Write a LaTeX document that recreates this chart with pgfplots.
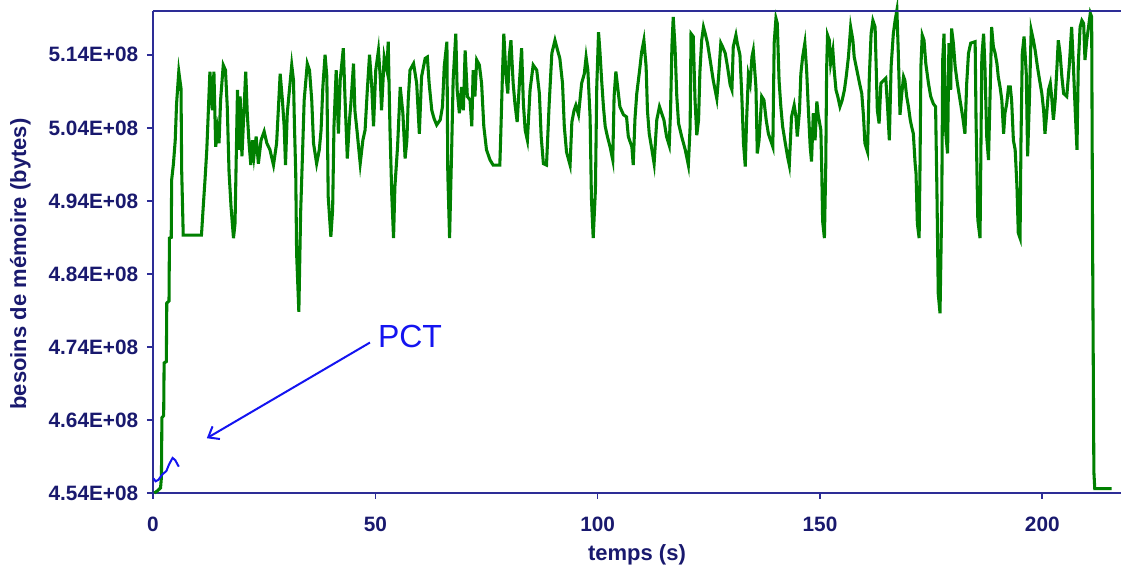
\documentclass[border=0pt]{standalone}
\usepackage{fontspec}
\setmainfont{Liberation Sans}
\usepackage{pgfplots}
\pgfplotsset{compat=1.18}
\usetikzlibrary{arrows.meta}

\definecolor{axisblue}{RGB}{45,45,150}
\definecolor{labelblue}{RGB}{25,25,110}
\definecolor{memgreen}{RGB}{0,128,0}
\definecolor{pctblue}{RGB}{20,20,240}

\begin{document}
\begin{tikzpicture}
% page = 1122x566 px at 0.75pt per px
\path[use as bounding box] (-114.75pt,-54.75pt) rectangle (726.75pt,369.75pt);
\begin{axis}[
    scale only axis,
    width=726pt, height=361.5pt,
    at={(0pt,0pt)}, anchor=south west,
    xmin=0, xmax=217.7,
    ymin=454, ymax=520,
    axis x line*=bottom,
    axis y line*=left,
    axis line style={axisblue, line width=1.4pt},
    tick align=outside,
    major tick length=4.5pt,
    every tick/.style={axisblue, line width=1.2pt},
    xtick={0,50,100,150,200},
    xticklabels={0,50,100,150,200},
    ytick={454,464,474,484,494,504,514},
    yticklabels={4.54E+08,4.64E+08,4.74E+08,4.84E+08,4.94E+08,5.04E+08,5.14E+08},
    ticklabel style={font=\fontsize{15.6}{18}\selectfont\bfseries, text=labelblue},
    xticklabel style={yshift=-10pt},
    yticklabel style={xshift=-3pt},
    xlabel={temps (s)},
    ylabel={besoins de mémoire (bytes)},
    label style={font=\fontsize{16.5}{20}\selectfont\bfseries, text=labelblue},
    xlabel style={at={(axis description cs:0.5,-0.128)}, anchor=center},
    ylabel style={at={(axis description cs:-0.137,0.475)}, anchor=center},
    clip=false,
]
% besoins de mémoire, en millions d'octets
\addplot[memgreen, line width=2.3pt, line join=miter] coordinates {
(0.3,454.0) (1.0,454.3) (1.7,454.7) (1.9,456.2) (2.0,464.3) (2.4,464.6)
(2.5,471.8) (3.0,472.0) (3.1,480.0) (3.6,480.3) (3.7,488.9) (4.1,489.0)
(4.2,496.9) (4.6,499.1) (5.0,502.3) (5.3,507.3) (5.8,511.7) (6.3,509.4)
(6.45,498.2) (6.8,489.3) (10.9,489.3) (11.3,493.2) (11.7,496.9) (12.1,501.0)
(12.8,511.7) (13.35,506.4) (13.7,511.7) (14.1,501.4) (14.5,503.7) (14.85,501.9)
(15.2,507.8) (15.8,512.6) (16.3,511.9) (16.7,506.9) (17.1,498.0) (17.55,493.2)
(18.1,488.9) (18.45,490.9) (19.0,509.2) (19.3,501.0) (19.6,508.3) (20.0,500.1)
(20.85,511.7) (21.2,506.0) (21.6,501.9) (22.0,498.9) (22.35,502.3) (22.7,500.1)
(23.2,502.8) (23.7,499.1) (24.3,502.3) (25.0,503.5) (25.6,501.9) (26.3,501.0)
(27.1,498.9) (27.8,501.9) (28.6,511.4) (29.1,507.8) (29.5,504.2) (29.8,498.9)
(30.2,506.0) (31.2,512.6) (31.6,510.5) (31.8,504.6) (32.1,497.8) (32.3,486.8)
(32.8,478.8) (33.2,492.3) (33.7,501.9) (34.0,507.8) (34.7,512.8) (35.2,511.9)
(35.7,507.8) (36.1,501.9) (36.8,499.1) (37.4,501.0) (37.8,503.7) (38.2,509.6)
(38.7,514.0) (39.1,511.0) (39.4,494.6) (40.0,489.1) (40.4,492.8) (40.7,504.2)
(41.2,511.9) (41.7,503.2) (42.1,510.5) (42.8,514.9) (43.2,507.8) (43.7,499.8)
(44.2,505.1) (44.5,507.3) (45.1,512.8) (45.4,506.4) (45.9,503.5) (46.6,499.1)
(47.2,502.3) (47.7,503.7) (48.2,509.2) (48.7,514.0) (49.2,509.6) (49.6,504.2)
(50.1,511.9) (50.7,514.6) (51.1,511.0) (51.4,506.4) (52.0,513.7) (52.6,511.9)
(52.9,515.8) (53.3,503.7) (53.7,494.8) (54.1,488.9) (54.4,495.9) (55.0,501.4)
(55.6,509.6) (56.2,506.0) (56.7,499.8) (57.1,502.3) (57.4,507.8) (57.8,511.9)
(58.6,512.8) (59.3,510.1) (59.9,503.2) (60.4,511.0) (61.2,513.5) (61.7,513.7)
(62.1,510.1) (62.7,506.4) (63.2,505.3) (63.8,504.4) (64.6,505.1) (65.1,506.9)
(65.5,512.4) (66.1,515.8) (66.3,497.8) (66.7,488.9) (67.2,501.9) (67.5,510.5)
(68.1,516.9) (68.4,509.2) (68.9,506.0) (69.4,509.6) (69.8,506.4) (70.2,514.6)
(70.7,508.3) (71.3,507.8) (71.7,504.2) (72.0,511.9) (72.4,508.3) (72.8,513.3)
(73.4,512.6) (73.9,510.1) (74.4,504.2) (75.0,501.0) (75.8,499.6) (76.5,498.9)
(78.0,498.9) (78.2,502.8) (78.6,511.4) (78.9,516.9) (79.4,511.0) (79.8,508.7)
(80.1,513.7) (80.5,516.0) (81.0,510.1) (81.4,507.3) (81.9,504.8) (82.4,510.1)
(82.9,514.9) (83.3,507.3) (83.7,503.7) (84.2,502.3) (84.8,509.2) (85.5,512.6)
(86.3,511.9) (86.9,508.7) (87.3,502.8) (87.8,499.1) (88.5,498.9) (89.1,507.3)
(89.7,514.2) (90.4,516.0) (91.0,514.6) (91.5,513.5) (92.1,510.1) (92.5,504.2)
(93.0,500.7) (93.8,498.9) (94.2,504.8) (94.7,506.4) (95.1,507.1) (95.7,505.8)
(96.4,510.1) (97.0,511.4) (97.4,513.7) (97.8,511.9) (98.3,505.5) (98.6,494.4)
(99.0,488.9) (99.5,495.5) (99.8,509.6) (100.2,517.1) (100.5,514.6) (100.9,510.5)
(101.3,506.9) (101.7,504.2) (102.2,502.8) (102.8,501.4) (103.4,499.6) (103.7,508.3)
(104.1,511.7) (104.5,509.6) (105.0,506.9) (105.8,505.8) (106.5,505.5) (106.9,502.8)
(107.7,501.4) (108.0,498.9) (108.4,505.3) (108.8,508.7) (109.4,511.7) (109.9,514.4)
(110.4,516.0) (110.9,512.4) (111.2,506.4) (111.6,503.2) (112.2,501.0) (112.7,499.1)
(113.3,505.1) (113.9,506.9) (114.4,506.0) (114.9,505.1) (115.5,502.8) (116.1,501.6)
(116.4,506.4) (116.7,515.1) (117.0,519.2) (117.4,515.1) (117.8,508.3) (118.2,504.6)
(118.9,502.8) (119.7,501.0) (120.4,498.9) (120.8,504.2) (121.0,516.9) (121.5,516.5)
(121.9,507.8) (122.3,503.0) (122.7,505.1) (123.0,511.7) (123.4,516.0) (123.8,517.8)
(124.2,516.9) (124.7,515.6) (125.3,513.3) (126.0,510.5) (126.8,508.0) (127.2,511.0)
(127.7,515.6) (128.1,515.1) (128.7,514.2) (129.2,512.4) (129.8,509.9) (130.2,509.2)
(130.5,515.1) (131.1,516.7) (131.4,515.6) (132.0,514.0) (132.4,508.7) (132.8,501.9)
(133.2,498.7) (133.5,505.1) (133.9,511.2) (134.3,510.1) (134.7,513.7) (135.0,514.6)
(135.6,509.6) (135.9,500.5) (136.3,502.3) (136.9,508.3) (137.4,507.8) (137.9,505.1)
(138.4,503.2) (138.9,502.3) (139.4,501.4) (139.7,515.6) (140.1,519.0) (140.4,518.3)
(140.8,510.5) (141.2,506.9) (141.6,504.2) (142.2,501.9) (142.7,500.1) (143.1,498.9)
(143.6,505.5) (144.2,507.1) (144.6,505.5) (144.9,502.8) (145.4,506.4) (145.7,511.4)
(146.1,513.7) (146.6,515.6) (147.0,511.9) (147.4,506.4) (147.8,501.4) (148.1,499.4)
(148.5,506.0) (148.9,502.3) (149.3,507.6) (149.6,505.8) (150.2,503.7) (150.4,498.2)
(150.6,491.2) (151.0,488.9) (151.3,498.7) (151.5,512.1) (151.7,516.7) (152.1,516.0)
(152.4,512.8) (152.9,514.6) (153.2,511.9) (153.6,509.2) (154.0,508.3) (154.5,506.9)
(155.0,507.8) (155.5,509.2) (155.9,511.0) (156.4,513.7) (156.9,517.8) (157.4,516.0)
(157.7,513.7) (158.3,511.9) (158.9,510.1) (159.4,508.7) (159.8,505.5) (160.1,501.9)
(160.7,500.7) (161.1,511.0) (161.5,516.9) (161.9,518.7) (162.4,517.8) (162.6,513.3)
(162.9,506.4) (163.3,504.6) (163.7,510.1) (164.3,510.5) (164.8,510.8) (165.2,506.9)
(165.6,502.3) (166.0,512.4) (166.5,516.9) (166.9,518.7) (167.3,520.1) (167.6,514.6)
(168.0,505.8) (168.4,508.7) (168.8,511.0) (169.1,510.5) (169.5,508.3) (169.9,506.9)
(170.3,505.1) (170.6,504.2) (171.0,503.2) (171.4,499.1) (171.6,497.8) (171.9,490.9)
(172.3,488.9) (172.5,498.7) (172.7,512.4) (173.0,516.7) (173.4,516.0) (173.8,512.8)
(174.4,510.1) (174.9,508.3) (175.5,507.3) (176.0,506.9) (176.3,495.5) (176.6,481.3)
(177.0,478.6) (177.4,494.1) (177.6,513.3) (177.9,516.9) (178.3,503.2) (178.7,500.5)
(179.0,515.6) (179.4,509.2) (179.6,517.6) (180.0,515.6) (180.4,512.4) (180.9,510.1)
(181.5,507.8) (182.1,505.5) (182.6,503.2) (183.0,510.1) (183.4,514.2) (183.9,515.6)
(184.9,515.8) (185.1,505.1) (185.5,491.4) (186.0,488.9) (186.4,513.7) (186.8,516.9)
(187.1,512.4) (187.5,502.8) (187.9,499.6) (188.3,509.6) (188.6,517.8) (189.0,515.1)
(189.4,514.2) (189.8,512.8) (190.1,511.0) (190.5,509.6) (190.9,507.8) (191.3,503.2)
(191.6,506.0) (192.0,507.3) (192.4,509.6) (192.8,509.6) (193.1,507.8) (193.5,502.3)
(193.9,501.0) (194.3,496.0) (194.6,489.6) (195.0,488.9) (195.2,501.9) (195.5,514.2)
(195.9,516.5) (196.4,511.4) (196.7,500.1) (197.1,507.8) (197.5,517.4) (198.0,516.0)
(198.4,514.6) (198.9,512.4) (199.4,510.5) (199.9,508.7) (200.3,506.4) (200.6,503.2)
(201.0,506.0) (201.4,509.2) (201.8,510.1) (202.1,508.3) (202.5,505.1) (202.9,507.8)
(203.3,512.4) (203.6,516.0) (204.0,514.2) (204.4,511.0) (204.8,508.7) (205.5,508.3)
(206.1,512.8) (206.6,517.8) (207.0,512.4) (207.4,506.4) (207.8,501.0) (208.1,512.8)
(208.5,517.8) (208.9,518.7) (209.3,518.3) (209.6,513.3) (210.0,516.0) (210.4,517.8)
(210.8,519.7) (211.1,519.2) (211.3,489.6) (211.6,456.9) (211.8,454.6) (215.6,454.6)
};
% PCT
\addplot[pctblue, line width=1.5pt] coordinates {
(0.1,456.0) (0.6,455.6) (1.2,455.8) (2.2,456.6) (3.0,457.0) (3.6,457.9)
(4.4,458.8) (5.0,458.5) (5.8,457.6)
};
\draw[axisblue, line width=1.4pt] (rel axis cs:0,1) -- (rel axis cs:1,1);
\draw[pctblue, line width=1.5pt, -{Straight Barb[length=7pt, width=11pt, line width=1.5pt]}]
  (axis cs:48.8,474.6) -- (axis cs:12.1,461.5);
\node[pctblue, font=\fontsize{24}{28}\selectfont, anchor=center] at (axis cs:57.8,475.4) {PCT};
\end{axis}
\end{tikzpicture}
\end{document}
